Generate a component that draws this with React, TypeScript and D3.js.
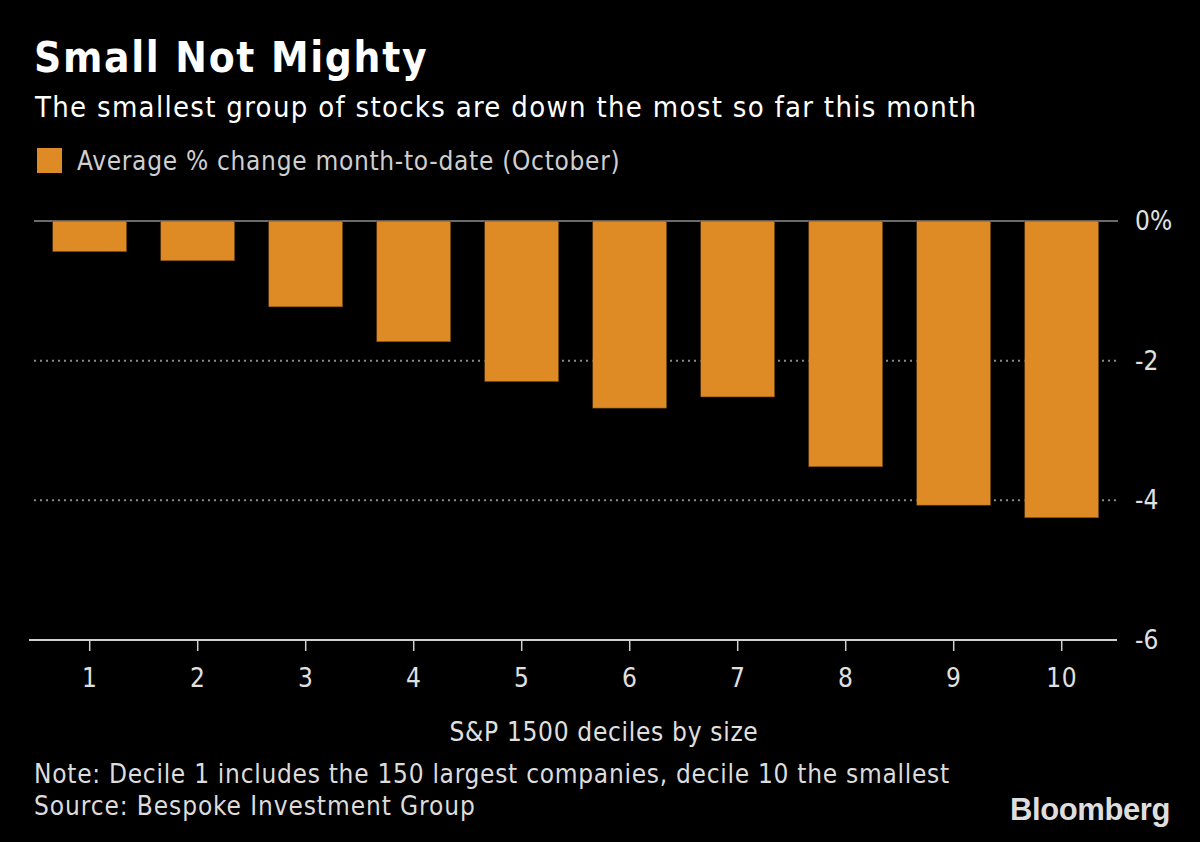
import React from "react";
import * as d3 from "d3";

const deciles = ["1", "2", "3", "4", "5", "6", "7", "8", "9", "10"];
const avgChange = [-0.44, -0.57, -1.23, -1.73, -2.3, -2.68, -2.52, -3.52, -4.07, -4.25];
const yTicks = [0, -2, -4, -6];

const W = 1200;
const H = 842;
const FONT = "'DejaVu Sans Condensed', 'DejaVu Sans', sans-serif";

export default function App() {
  const x = d3
    .scaleBand<string>()
    .domain(deciles)
    .range([35.7, 1115.7])
    .paddingInner(0.315)
    .paddingOuter(0.1575);
  const y = d3.scaleLinear().domain([0, -6]).range([221, 640]);

  return (
    <svg width={W} height={H} style={{ position: "absolute", left: 0, top: 0, background: "#000" }}>
      <rect x={0} y={0} width={W} height={H} fill="#000" />
      <text x={34} y={72} fill="#fff" fontFamily={FONT} fontWeight="bold" fontSize={42} letterSpacing={1.7}>
        Small Not Mighty
      </text>
      <text x={35} y={117} fill="#fff" fontFamily={FONT} fontSize={29} letterSpacing={1.3}>
        The smallest group of stocks are down the most so far this month
      </text>
      <rect x={37} y={148} width={25} height={25} fill="#DE8A25" />
      <text x={77} y={170} fill="#cfcfcf" fontFamily={FONT} fontSize={26} letterSpacing={0.7}>
        Average % change month-to-date (October)
      </text>

      {yTicks
        .filter((t) => t !== 0 && t !== -6)
        .map((t) => (
          <line
            key={"g" + t}
            x1={34}
            x2={1118}
            y1={y(t)}
            y2={y(t)}
            stroke="#8a8a8a"
            strokeWidth={2}
            strokeDasharray="2 4"
          />
        ))}
      <line x1={34} x2={1118} y1={y(0)} y2={y(0)} stroke="#6a6a6a" strokeWidth={2} />

      {avgChange.map((v, i) => (
        <rect
          key={deciles[i]}
          x={x(deciles[i])}
          y={y(0)}
          width={x.bandwidth()}
          height={y(v) - y(0)}
          fill="#DE8A25"
          stroke="#5a3a10"
          strokeWidth={0.6}
        />
      ))}

      <line x1={29} x2={1117} y1={y(-6)} y2={y(-6)} stroke="#d0d0d0" strokeWidth={2} />
      {deciles.map((d) => {
        const cx = (x(d) as number) + x.bandwidth() / 2;
        return (
          <g key={"t" + d}>
            <line x1={cx} x2={cx} y1={y(-6)} y2={y(-6) + 11} stroke="#d0d0d0" strokeWidth={1.5} />
            <text x={cx} y={687} fill="#e0e0e0" fontFamily={FONT} fontSize={26} textAnchor="middle" letterSpacing={0.5}>
              {d}
            </text>
          </g>
        );
      })}

      {yTicks.map((t) => (
        <text
          key={"y" + t}
          x={1135}
          y={y(t)}
          dy="0.35em"
          fill="#e0e0e0"
          fontFamily={FONT}
          fontSize={26}
        >
          {t === 0 ? "0%" : String(t)}
        </text>
      ))}

      <text x={604} y={741} fill="#e0e0e0" fontFamily={FONT} fontSize={26} textAnchor="middle" letterSpacing={0.7}>
        S&amp;P 1500 deciles by size
      </text>
      <text x={34} y={783} fill="#dcdcdc" fontFamily={FONT} fontSize={26} letterSpacing={0.72}>
        Note: Decile 1 includes the 150 largest companies, decile 10 the smallest
      </text>
      <text x={34} y={815} fill="#dcdcdc" fontFamily={FONT} fontSize={26} letterSpacing={0.9}>
        Source: Bespoke Investment Group
      </text>
      <text
        x={1170}
        y={820}
        fill="#dedede"
        fontFamily="'Liberation Sans', Arial, sans-serif"
        fontWeight="bold"
        fontSize={31}
        textAnchor="end"
        letterSpacing={-0.4}
      >
        Bloomberg
      </text>
    </svg>
  );
}
